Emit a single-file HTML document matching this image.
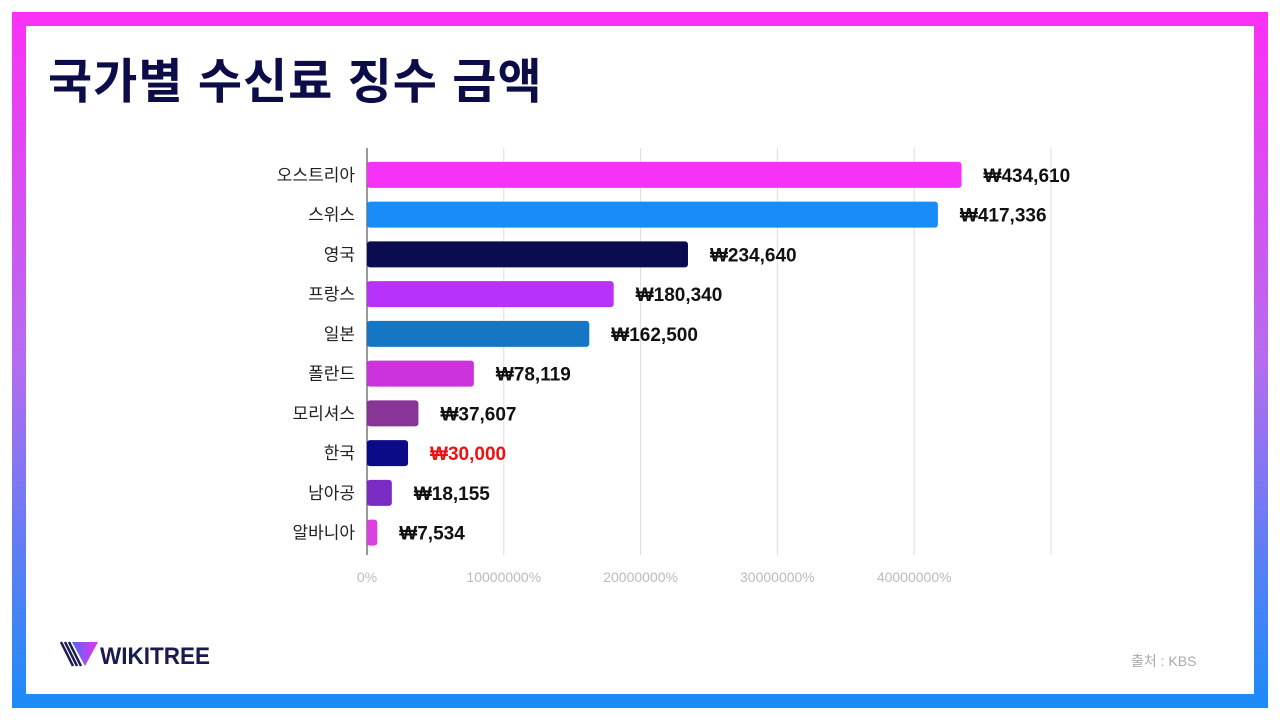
<!DOCTYPE html>
<html><head><meta charset="utf-8"><style>
body{margin:0;width:1280px;height:720px;background:#fff;position:relative;overflow:hidden;font-family:"Liberation Sans","Noto Sans CJK KR",sans-serif}
#frame{position:absolute;left:12px;top:12px;width:1256px;height:696px;background:linear-gradient(#fb30f4,#b56cf0 50%,#1a8cf8)}
#inner{position:absolute;left:26px;top:26px;width:1228px;height:668px;background:#fff}
#title{position:absolute;left:48px;top:42px;font-size:48px;font-weight:bold;color:#0c0c48;letter-spacing:1px}
#src{position:absolute;left:1131px;top:651px;font-size:14px;color:#aaa}
</style></head><body>
<div id="frame"></div>
<div id="inner"></div>
<div id="title">국가별 수신료 징수 금액</div>
<svg width="1280" height="720" style="position:absolute;left:0;top:0" id="chart"></svg>
<svg width="160" height="40" style="position:absolute;left:58px;top:638px">
<defs><linearGradient id="lg" x1="0" x2="1"><stop offset="0" stop-color="#4a6cf0"/><stop offset="1" stop-color="#f030f0"/></linearGradient></defs>
<polygon points="14,4 40,4 27,28" fill="url(#lg)"/>
<path d="M3,4 L15,28 M7,4 L19,28 M11,4 L23,28" stroke="#1a1a50" stroke-width="2.5"/>
<text x="42" y="26" font-size="24" font-weight="bold" font-family="Liberation Sans" fill="#1a1a50" textLength="110" lengthAdjust="spacingAndGlyphs">WIKITREE</text>
</svg>
<div id="src">출처 : KBS</div>
<script>
const categories=["오스트리아","스위스","영국","프랑스","일본","폴란드","모리셔스","한국","남아공","알바니아"];
const values=[434610,417336,234640,180340,162500,78119,37607,30000,18155,7534];
const labels=["₩434,610","₩417,336","₩234,640","₩180,340","₩162,500","₩78,119","₩37,607","₩30,000","₩18,155","₩7,534"];
const colors=["#f532f5","#1a8cf8","#0b0b52","#b733fb","#1577c4","#cc33dd","#893597","#0b0b88","#7a2cc4","#dd40e0"];
const ticks=[0,100000,200000,300000,400000,500000];
const tickLabels=["0%","10000000%","20000000%","30000000%","40000000%",""];
const svg=document.getElementById('chart');const NS="http://www.w3.org/2000/svg";
const x0=367,x1=1051,vmax=500000,yTop=155,step=39.75,bh=26;
const X=v=>x0+(x1-x0)*v/vmax;const Y=i=>yTop+step*i+step/2;
function mk(t,a){const e=document.createElementNS(NS,t);for(const k in a)e.setAttribute(k,a[k]);svg.appendChild(e);return e;}
ticks.forEach((t,i)=>{
 if(i>0){const g=mk('line',{x1:X(t),x2:X(t),y1:148,y2:555,stroke:'#ddd','stroke-width':1});
 
 }
 const tl=mk('text',{x:X(t),y:582,'text-anchor':'middle','font-size':14,fill:'#bbb'});tl.textContent=tickLabels[i];
 
 
});
const ax=mk('line',{x1:x0,x2:x0,y1:148,y2:555,stroke:'#333','stroke-width':1});


categories.forEach((c,i)=>{
 const y=Y(i);
 const cl=mk('text',{x:355,y:y+6,'text-anchor':'end','font-size':17,fill:'#222'});cl.textContent=c;
 
 
 const b=mk('rect',{x:x0,y:y-bh/2,width:X(values[i])-x0,height:bh,rx:3,fill:colors[i]});
 
 
 const v=mk('text',{x:X(values[i])+22,y:y+7,'font-size':19,'font-weight':'bold',fill:c==="한국"?'#ee1111':'#111'});v.textContent=labels[i];
 
 
});
</script>
</body></html>
